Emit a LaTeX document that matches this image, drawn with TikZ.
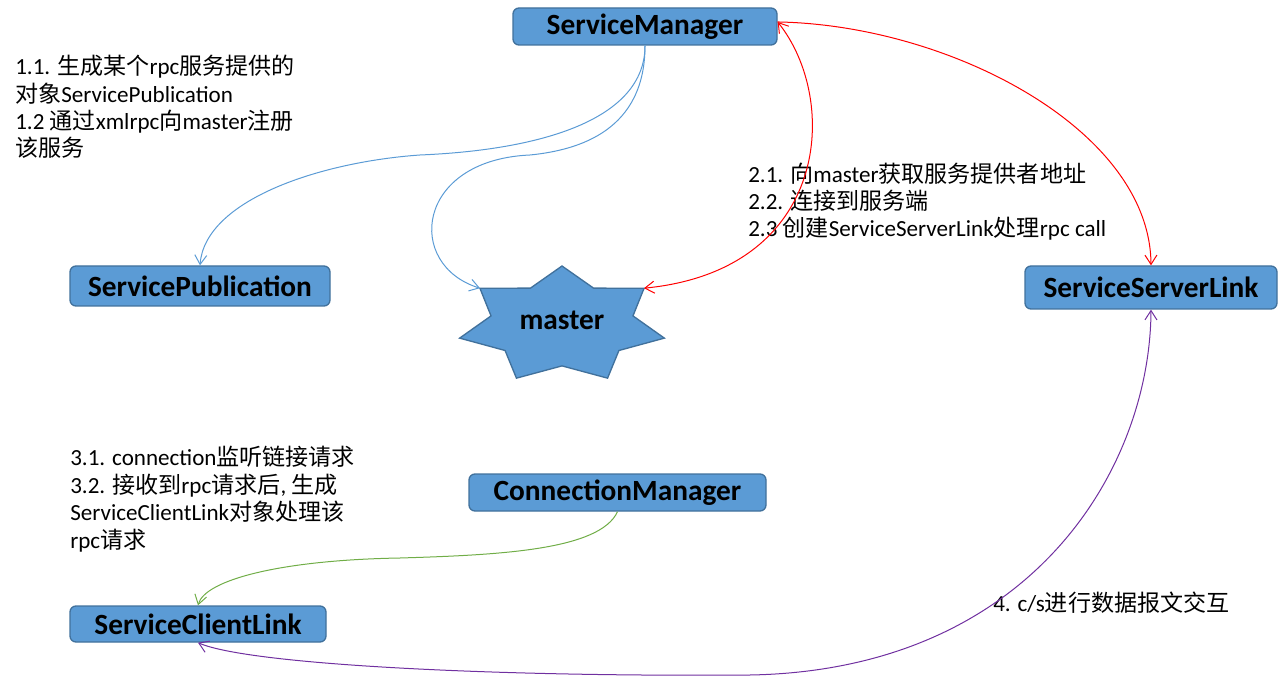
\documentclass[tikz,border=0pt]{standalone}
\usepackage{fontspec}
\setmainfont{Carlito}
\newfontfamily\cjk{Noto Sans CJK SC}
\usetikzlibrary{arrows.meta}
\definecolor{boxfill}{HTML}{5B9BD5}
\definecolor{boxline}{HTML}{41719C}
\definecolor{lblue}{HTML}{5B9BD5}
\definecolor{lred}{HTML}{FF0000}
\definecolor{lgreen}{HTML}{70AD47}
\definecolor{lpurple}{HTML}{7030A0}
\newcommand\zh[1]{{\cjk #1}}
\begin{document}
\begin{tikzpicture}[x=0.75pt,y=-0.75pt,
  box/.style={draw=boxline, fill=boxfill, line width=1pt, rounded corners=4.5pt,
    font=\fontsize{22}{26}\selectfont\bfseries, inner sep=0pt},
  note/.style={align=left, anchor=base west, inner sep=0pt,
    font=\fontsize{17.3}{20.6}\selectfont},
  conn/.style={line width=0.75pt},
  >={Straight Barb[length=7pt,width=9pt]}]
\useasboundingbox (0,0) rectangle (1280,680);

% boxes
\node[box, minimum width=198pt, minimum height=27.75pt] (sm) at (645,26.5) {ServiceManager};
\node[box, minimum width=195pt, minimum height=30pt] (sp) at (200,286) {ServicePublication};
\node[box, minimum width=189pt, minimum height=32.25pt] (ssl) at (1151,287.5) {ServiceServerLink};
\node[box, minimum width=222.75pt, minimum height=27.75pt] (cm) at (617.5,492.5) {ConnectionManager};
\node[box, minimum width=192pt, minimum height=27pt] (scl) at (198,624) {ServiceClientLink};

% master star
\path[draw=boxline, fill=boxfill, line width=1pt, line join=miter, shift={(562,325)}]
  (-90:105 and 59)
  \foreach \k in {1,...,7} { -- ({-90+(\k-0.5)*360/7}:72.8 and 40.9) -- ({-90+\k*360/7}:105 and 59) } -- cycle;
\node[font=\fontsize{22}{26}\selectfont\bfseries, inner sep=0pt] (master) at (562,320) {master};
\coordinate (mUR) at (644,288.2);
\coordinate (mUL) at (480,288.2);

% notes (anchored at the baseline of their last line)
\node[note] (n1) at (15,157) {1.1. \zh{生成某个}rpc\zh{服务提供的}\\\zh{对象}ServicePublication\\1.2 \zh{通过}xmlrpc\zh{向}master\zh{注册}\\\zh{该服务}};
\node[note] (n2) at (748,237) {2.1. \zh{向}master\zh{获取服务提供者地址}\\2.2. \zh{连接到服务端}\\2.3 \zh{创建}ServiceServerLink\zh{处理}rpc call};
\node[note] (n3) at (70,548) {3.1. connection\zh{监听链接请求}\\3.2. \zh{接收到}rpc\zh{请求后}, \zh{生成}\\ServiceClientLink\zh{对象处理该}\\rpc\zh{请求}};
\node[note] (n4) at (993,611.5) {4. c/s\zh{进行数据报文交互}};

% connectors
\draw[conn, lblue, ->] (sm.south) .. controls (645,120) and (540,150) .. (420,155)
  .. controls (320,162) and (205,200) .. (sp.north);
\draw[conn, lblue, ->] (sm.south) .. controls (645,130) and (580,150) .. (530,155)
  .. controls (415,160) and (405,265) .. (mUL);
\draw[conn, lred, <->] ([yshift=3.4pt]sm.east) .. controls (840,100) and (830,270) .. (mUR);
\draw[conn, lred, ->] ([yshift=3.4pt]sm.east) .. controls (950,25) and (1150,130) .. (ssl.north);
\draw[conn, lgreen, ->] (cm.south) .. controls (600,550) and (500,555) .. (400,558)
  .. controls (280,560) and (205,580) .. (scl.north);
\draw[conn, lpurple, <->] (ssl.south) .. controls (1150,470) and (1030,670) .. (750,675)
  .. controls (500,677) and (250,665) .. (scl.south);
\end{tikzpicture}
\end{document}
